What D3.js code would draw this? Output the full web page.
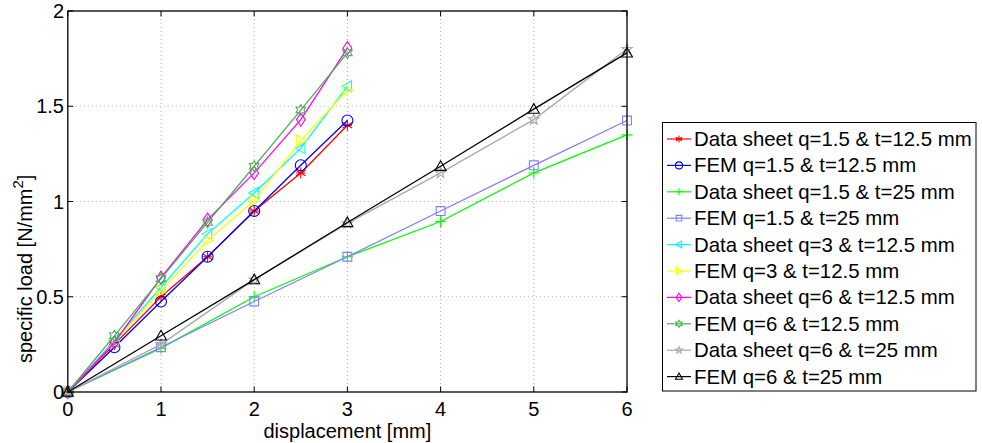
<!DOCTYPE html>
<html><head><meta charset="utf-8">
<script src="https://cdn.jsdelivr.net/npm/d3@7/dist/d3.min.js"></script>
<style>body{margin:0;background:#fff}svg{display:block;font-family:"Liberation Sans",Arial,sans-serif}</style>
</head><body>
<svg id="c" width="982" height="443"></svg>
<script>
const xShort = [0,0.5,1,1.5,2,2.5,3];
const xLong = [0,1,2,3,4,5,6];
const seriesNames = [
  "Data sheet q=1.5 & t=12.5 mm","FEM q=1.5 & t=12.5 mm",
  "Data sheet q=1.5 & t=25 mm","FEM q=1.5 & t=25 mm",
  "Data sheet q=3 & t=12.5 mm","FEM q=3 & t=12.5 mm",
  "Data sheet q=6 & t=12.5 mm","FEM q=6 & t=12.5 mm",
  "Data sheet q=6 & t=25 mm","FEM q=6 & t=25 mm"];
const ds15_125 = [0,0.25,0.50,0.71,0.95,1.15,1.40];
const fem15_125 = [0,0.235,0.475,0.71,0.95,1.19,1.425];
const ds15_25 = [0,0.23,0.50,0.71,0.895,1.15,1.35];
const fem15_25 = [0,0.235,0.475,0.71,0.95,1.19,1.425];
const ds3_125 = [0,0.27,0.55,0.83,1.045,1.28,1.605];
const fem3_125 = [0,0.26,0.53,0.795,1.005,1.32,1.585];
const ds6_125 = [0,0.26,0.60,0.905,1.15,1.43,1.805];
const fem6_125 = [0,0.295,0.595,0.89,1.185,1.48,1.78];
const ds6_25 = [0,0.25,0.59,0.885,1.15,1.43,1.80];
const fem6_25 = [0,0.295,0.59,0.89,1.185,1.485,1.78];
const xTicks = [0,1,2,3,4,5,6];
const yTicks = [0,0.5,1,1.5,2];
const yTickLabels = ["0","0.5","1","1.5","2"];

const seriesX = [xShort,xShort,xLong,xLong,xShort,xShort,xShort,xShort,xLong,xLong];
const seriesY = [ds15_125,fem15_125,ds15_25,fem15_25,ds3_125,fem3_125,ds6_125,fem6_125,ds6_25,fem6_25];
const colors = ["#ff0000","#0000ff","#00ff00","#8080ff","#00ffff","#ffff00","#ff00ff","#4cb04c","#a8a8a8","#000000"];
const markers = ["asterisk","circle","plus","square","triL","triR","diamond","hexagram","pentagram","triU"];

const svg = d3.select("#c");
const L=67.8,R=627,T=11,B=392;
const x = d3.scaleLinear().domain([0,6]).range([L,R]);
const y = d3.scaleLinear().domain([0,2]).range([B,T]);

function markerPath(type,r){
  const p = d3.path();
  if(type==="circle"){p.arc(0,0,r,0,2*Math.PI);}
  else if(type==="square"){const s=r*0.8;p.rect(-s,-s,2*s,2*s);}
  else if(type==="plus"){p.moveTo(-r,0);p.lineTo(r,0);p.moveTo(0,-r);p.lineTo(0,r);}
  else if(type==="asterisk"){for(let k=0;k<3;k++){const a=Math.PI/2+k*Math.PI/3;p.moveTo(r*Math.cos(a),r*Math.sin(a));p.lineTo(-r*Math.cos(a),-r*Math.sin(a));}
    p.moveTo(-r*0.85,0);p.lineTo(r*0.85,0);}
  else if(type==="diamond"){p.moveTo(0,-r*1.2);p.lineTo(r*0.8,0);p.lineTo(0,r*1.2);p.lineTo(-r*0.8,0);p.closePath();}
  else if(type==="triU"){p.moveTo(0,-r);p.lineTo(r,r*0.75);p.lineTo(-r,r*0.75);p.closePath();}
  else if(type==="triL"){p.moveTo(-r,0);p.lineTo(r*0.75,-r);p.lineTo(r*0.75,r);p.closePath();}
  else if(type==="triR"){p.moveTo(r,0);p.lineTo(-r*0.75,-r);p.lineTo(-r*0.75,r);p.closePath();}
  else if(type==="pentagram"||type==="hexagram"){
    const n = type==="pentagram"?5:6; const ri = type==="pentagram"? r*0.4 : r*0.58;
    for(let k=0;k<2*n;k++){const a=-Math.PI/2+k*Math.PI/n; const rr=k%2===0?r:ri;
      const px=rr*Math.cos(a),py=rr*Math.sin(a); if(k===0)p.moveTo(px,py);else p.lineTo(px,py);} p.closePath();}
  return p.toString();
}

// grid
const g = svg.append("g");
xTicks.filter(v=>v>0&&v<6).forEach(v=>{
  g.append("line").attr("x1",x(v)).attr("x2",x(v)).attr("y1",T).attr("y2",B)
   .attr("stroke","#b0b0b0").attr("stroke-width",1).attr("stroke-dasharray","1,3");
});
yTicks.filter(v=>v>0&&v<2).forEach(v=>{
  g.append("line").attr("x1",L).attr("x2",R).attr("y1",y(v)).attr("y2",y(v))
   .attr("stroke","#b0b0b0").attr("stroke-width",1).attr("stroke-dasharray","1,3");
});

// series
const line = d3.line().x(d=>x(d[0])).y(d=>y(d[1]));
seriesY.forEach((ys,i)=>{
  const pts = ys.map((v,j)=>[seriesX[i][j],v]);
  svg.append("path").attr("d",line(pts)).attr("fill","none").attr("stroke",colors[i]).attr("stroke-width",1.3);
  pts.forEach(p=>{
    svg.append("path").attr("d",markerPath(markers[i],5.5)).attr("transform",`translate(${x(p[0])},${y(p[1])})`)
      .attr("fill","none").attr("stroke",colors[i]).attr("stroke-width",1.1);
  });
});

// axes box + ticks
const ax = svg.append("g");
ax.append("rect").attr("x",L).attr("y",T).attr("width",R-L).attr("height",B-T)
  .attr("fill","none").attr("stroke","#000").attr("stroke-width",1.3);
const tl=5.5;
xTicks.forEach(v=>{
  ax.append("line").attr("x1",x(v)).attr("x2",x(v)).attr("y1",B).attr("y2",B-tl).attr("stroke","#000");
  ax.append("line").attr("x1",x(v)).attr("x2",x(v)).attr("y1",T).attr("y2",T+tl).attr("stroke","#000");
  ax.append("text").attr("x",x(v)).attr("y",416).attr("text-anchor","middle").attr("font-size",20).text(v);
});
yTicks.forEach((v,i)=>{
  ax.append("line").attr("x1",L).attr("x2",L+tl).attr("y1",y(v)).attr("y2",y(v)).attr("stroke","#000");
  ax.append("line").attr("x1",R).attr("x2",R-tl).attr("y1",y(v)).attr("y2",y(v)).attr("stroke","#000");
  ax.append("text").attr("x",64).attr("y",y(v)+7).attr("text-anchor","end").attr("font-size",20).text(yTickLabels[i]);
});
svg.append("text").attr("x",(L+R)/2).attr("y",438).attr("text-anchor","middle").attr("font-size",20).text("displacement [mm]");
const yl = svg.append("text").attr("transform","translate(32,363) rotate(-90)").attr("font-size",20);
yl.append("tspan").text("specific load [N/mm");
yl.append("tspan").attr("dy",-9).attr("font-size",15).text("2");
yl.append("tspan").attr("dy",9).text("]");

// legend
const lg = svg.append("g");
lg.append("rect").attr("x",662.5).attr("y",122.5).attr("width",313.5).attr("height",268.5)
  .attr("fill","#fff").attr("stroke","#000").attr("stroke-width",1);
seriesNames.forEach((n,i)=>{
  const cy = 139 + i*26.4;
  lg.append("line").attr("x1",667).attr("x2",691).attr("y1",cy).attr("y2",cy).attr("stroke",colors[i]).attr("stroke-width",1.2);
  lg.append("path").attr("d",markerPath(markers[i],3.5)).attr("transform",`translate(679,${cy})`)
    .attr("fill","none").attr("stroke",colors[i]).attr("stroke-width",1.1);
  lg.append("text").attr("x",694).attr("y",cy+7).attr("font-size",20.4).text(n);
});
</script>
</body></html>
